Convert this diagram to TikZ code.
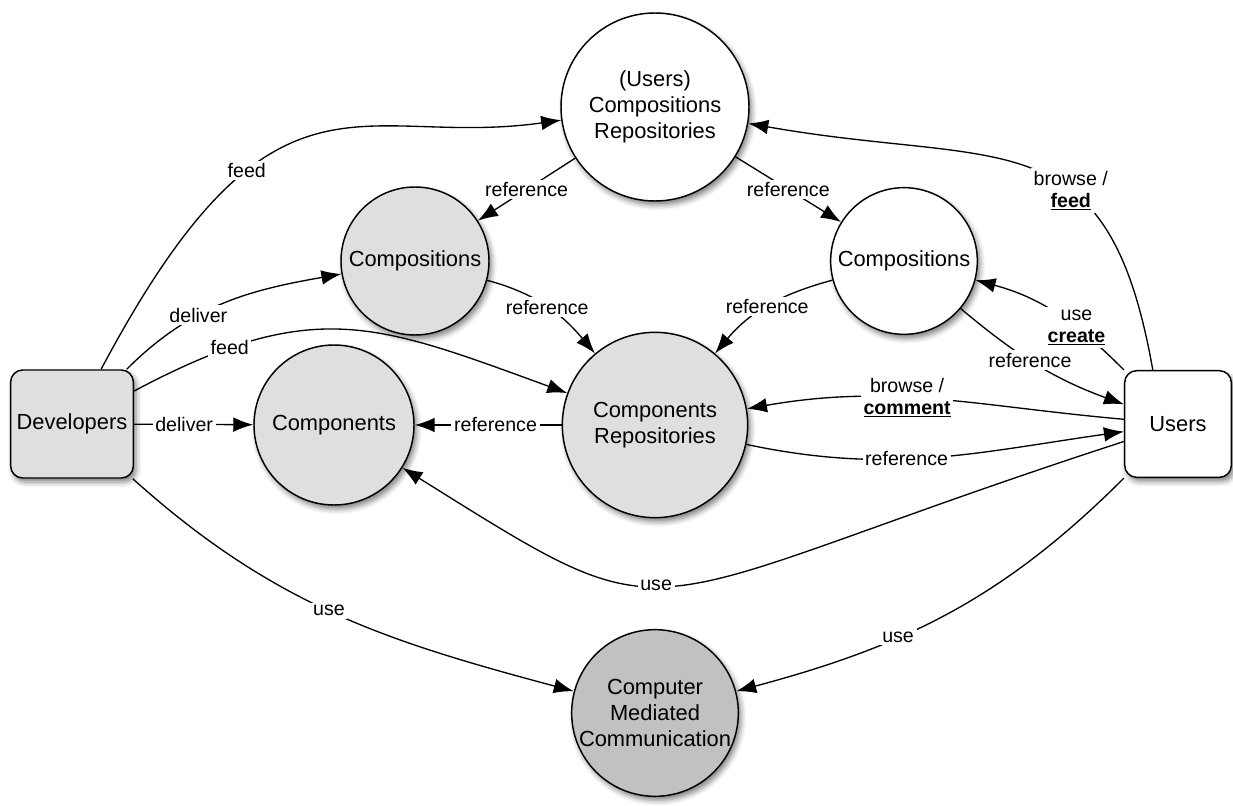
\documentclass[tikz,border=0pt]{standalone}
\usepackage{fontspec}
\setmainfont{Liberation Sans}
\usepackage{tikz}
\usetikzlibrary{shapes.geometric}
\usetikzlibrary{arrows.meta}
\usetikzlibrary{shadows.blur}
\usetikzlibrary{positioning}
\definecolor{litegray}{HTML}{DFDFDF}
\definecolor{cmcgray}{HTML}{C1C1C1}
\newcommand{\nodefont}{\fontsize{16.4}{19.5}\selectfont}
\newcommand{\lblfont}{\fontsize{14.7}{16.5}\selectfont}
\tikzset{actor/.style={rectangle, rounded corners=9pt, draw=black, line width=1.1pt, minimum width=92pt, minimum height=81pt, font=\nodefont, blur shadow={shadow xshift=2pt, shadow yshift=-3pt, shadow blur radius=4pt, shadow opacity=50}}}
\tikzset{proc/.style={circle, draw=black, line width=1.1pt, inner sep=0pt, align=center, font=\nodefont, blur shadow={shadow xshift=2pt, shadow yshift=-3pt, shadow blur radius=4pt, shadow opacity=50}}}
\tikzset{lbl/.style={fill=white, inner sep=2pt, align=center, font=\lblfont}}

\begin{document}
\begin{tikzpicture}[x=0.75pt, y=0.75pt, >={Latex[length=15pt,width=11pt]}, line width=1pt]
		\useasboundingbox (0,0) rectangle (1233,-806);
		\node[actor, fill=litegray] (D) at (72,-424) {Developers};
		\node[actor, fill=white, minimum width=80pt, minimum height=80pt] (U) at (1178,-424) {Users};
		\node[proc, fill=white, minimum size=141pt] (R) at (655,-107) {(Users)\\Compositions\\Repositories};
		\node[proc, fill=litegray, minimum size=111pt] (P) at (415,-261) {Compositions};
		\node[proc, fill=white, minimum size=110pt] (Q) at (904,-261) {Compositions};
		\node[proc, fill=litegray, minimum size=120pt] (C) at (334,-425) {Components};
		\node[proc, fill=litegray, minimum size=139pt] (K) at (655,-425) {Components\\Repositories};
		\node[proc, fill=cmcgray, minimum size=125pt] (M) at (655,-713) {Computer\\Mediated\\Communication};
		% developers side
		\path [->] (D.62) edge[out=62, in=188, out looseness=1.8] node[lbl, pos=0.32] {feed} (R);
		\path [->] (D) edge[out=45, in=190] node[lbl, pos=0.37] {deliver} (P);
		\path [->] (D) edge[out=28, in=160, looseness=1.2] node[lbl, pos=0.2] {feed} (K);
		\path [->] (D) edge node[lbl, pos=0.42] {deliver} (C);
		\path [->] (D) edge[out=-42, in=165] node[lbl, pos=0.48] {use} (M);
		% repositories and compositions
		\path [->] (R) edge node[lbl] {reference} (P);
		\path [->] (R) edge node[lbl] {reference} (Q);
		\path [->] (P) edge[out=-15, in=130] node[lbl] {reference} (K);
		\path [->] (Q) edge[out=195, in=50] node[lbl] {reference} (K);
		\path [->] (K) edge node[lbl, pos=0.45] {reference} (C);
		% users side
		\path [->] (U.115) edge[out=100, in=-10, looseness=1.4] node[lbl, pos=0.38] {browse /\\\underline{\textbf{feed}}} (R);
		\path [->] (U.north west) edge[out=135, in=-15] node[lbl, pos=0.35] {use\\\underline{\textbf{create}}} (Q);
		\path [->] (Q) edge[out=-40, in=160] node[lbl, pos=0.45] {reference} (U);
		\path [->] (U) edge[out=175, in=10] node[lbl, pos=0.58] {browse /\\\underline{\textbf{comment}}} (K);
		\path [->] (K) edge[out=-12, in=188] node[lbl, pos=0.42] {reference} (U);
		\path [->] (U) edge[out=198, in=-32, out looseness=1.9, in looseness=1.2] node[lbl, pos=0.55] {use} (C);
		\path [->] (U.south west) edge[out=225, in=15] node[lbl, pos=0.63] {use} (M);
	\end{tikzpicture}
\end{document}
